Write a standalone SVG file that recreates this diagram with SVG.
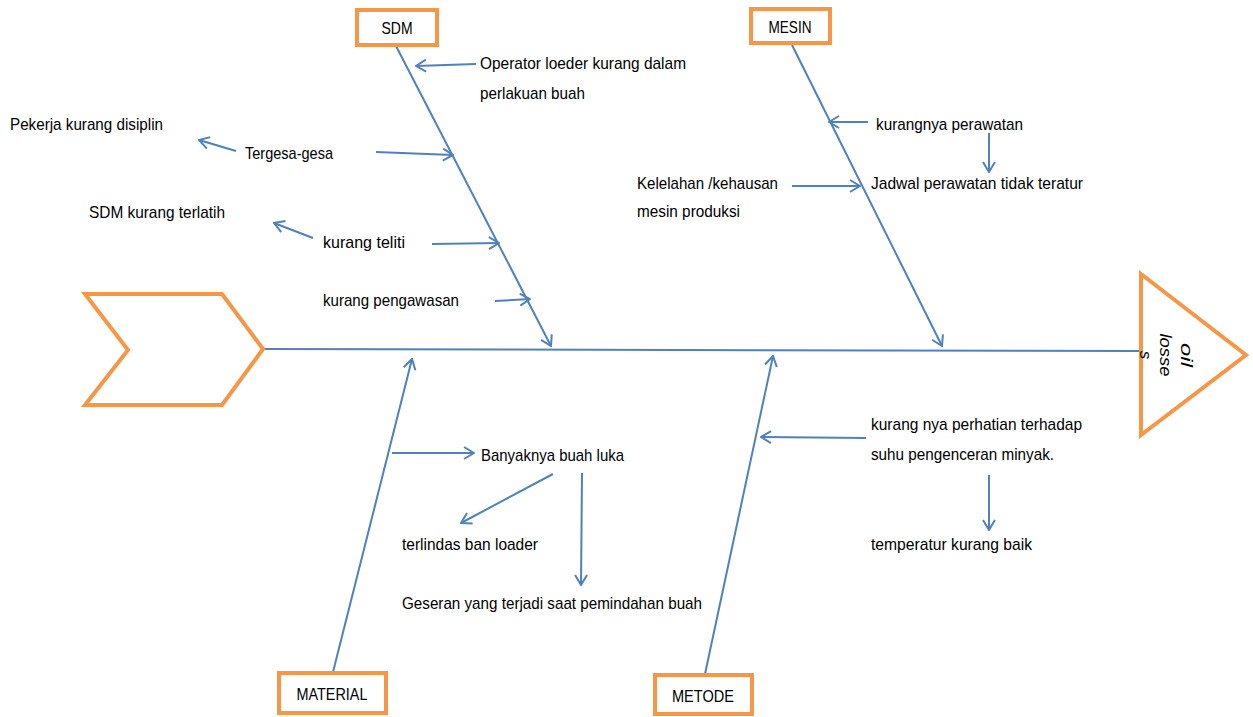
<svg xmlns="http://www.w3.org/2000/svg" width="1253" height="717" viewBox="0 0 1253 717">
<defs>
<style>
.ln{stroke:#4F81BD;stroke-width:2;fill:none}
.ar{stroke:#4F81BD;stroke-width:2;fill:none;marker-end:url(#v)}
.box{fill:#fff;stroke:#F79646;stroke-width:4}
.t{font-family:"Liberation Sans",Arial,sans-serif;font-size:17px;fill:#000}
.c{text-anchor:middle}
</style>
<marker id="v" viewBox="0 0 12 14" refX="11" refY="7" markerWidth="12" markerHeight="14" markerUnits="userSpaceOnUse" orient="auto">
<path d="M1,1 L11,7 L1,13" fill="none" stroke="#4F81BD" stroke-width="2"/>
</marker>
</defs>
<rect width="1253" height="717" fill="#fff"/>
<g id="connectors">
<line class="ln" x1="263" y1="349" x2="1140" y2="351"/>
<line class="ar" x1="396" y1="46" x2="551" y2="346"/>
<line class="ar" x1="792" y1="45" x2="942" y2="346"/>
<line class="ar" x1="333" y1="672" x2="412" y2="359"/>
<line class="ar" x1="705" y1="674" x2="773" y2="356"/>
<line class="ar" x1="476" y1="64" x2="416" y2="66"/>
<line class="ar" x1="376" y1="152" x2="453" y2="155"/>
<line class="ar" x1="236" y1="151" x2="199" y2="140"/>
<line class="ar" x1="313" y1="238" x2="274" y2="223"/>
<line class="ar" x1="432" y1="244" x2="499" y2="243"/>
<line class="ar" x1="495" y1="301" x2="530" y2="299"/>
<line class="ar" x1="868" y1="122" x2="829" y2="122"/>
<line class="ar" x1="989" y1="133" x2="989" y2="172"/>
<line class="ar" x1="792" y1="186" x2="860" y2="186"/>
<line class="ar" x1="392" y1="453" x2="474" y2="453"/>
<line class="ar" x1="553" y1="474" x2="461" y2="523"/>
<line class="ar" x1="582" y1="473" x2="581" y2="585"/>
<line class="ar" x1="866" y1="438" x2="761" y2="437"/>
<line class="ar" x1="989" y1="475" x2="989" y2="530"/>
</g>
<g id="head">
<polygon class="box" points="1141,274 1246,355 1141,435"/>
<g transform="translate(1200,355) rotate(90)">
<text class="t c" x="0" y="19" font-style="italic" textLength="24" lengthAdjust="spacingAndGlyphs">oil</text>
<text class="t c" x="0" y="40" font-style="italic" textLength="43" lengthAdjust="spacingAndGlyphs">losse</text>
<text class="t c" x="0" y="60" font-style="italic">s</text>
</g>
</g>
<g id="tail">
<polygon class="box" points="85,294 222,294 263,349 222,405 85,405 128,350"/>
</g>
<g id="sdm">
<rect class="box" x="357" y="10" width="80" height="35"/>
<text class="t c" x="397" y="34" textLength="31" lengthAdjust="spacingAndGlyphs">SDM</text>
</g>
<g id="mesin">
<rect class="box" x="751" y="9" width="79" height="34"/>
<text class="t c" x="790" y="33" textLength="43" lengthAdjust="spacingAndGlyphs">MESIN</text>
</g>
<g id="material">
<rect class="box" x="279" y="673" width="107" height="40"/>
<text class="t c" x="332" y="700" textLength="71" lengthAdjust="spacingAndGlyphs">MATERIAL</text>
</g>
<g id="metode">
<rect class="box" x="655" y="675" width="97" height="39"/>
<text class="t c" x="703" y="702" textLength="62" lengthAdjust="spacingAndGlyphs">METODE</text>
</g>
<g id="labels">
<text class="t" x="480" y="69" textLength="206" lengthAdjust="spacingAndGlyphs">Operator loeder kurang dalam</text>
<text class="t" x="480" y="99" textLength="105" lengthAdjust="spacingAndGlyphs">perlakuan buah</text>
<text class="t" x="10" y="130" textLength="153" lengthAdjust="spacingAndGlyphs">Pekerja kurang disiplin</text>
<text class="t" x="245" y="159" textLength="88" lengthAdjust="spacingAndGlyphs">Tergesa-gesa</text>
<text class="t" x="89" y="218" textLength="136" lengthAdjust="spacingAndGlyphs">SDM kurang terlatih</text>
<text class="t" x="323" y="248" textLength="82" lengthAdjust="spacingAndGlyphs">kurang teliti</text>
<text class="t" x="323" y="306" textLength="136" lengthAdjust="spacingAndGlyphs">kurang pengawasan</text>
<text class="t" x="876" y="130" textLength="147" lengthAdjust="spacingAndGlyphs">kurangnya perawatan</text>
<text class="t" x="871" y="189" textLength="212" lengthAdjust="spacingAndGlyphs">Jadwal perawatan tidak teratur</text>
<text class="t" x="637" y="189" textLength="141" lengthAdjust="spacingAndGlyphs">Kelelahan /kehausan</text>
<text class="t" x="637" y="217" textLength="103" lengthAdjust="spacingAndGlyphs">mesin produksi</text>
<text class="t" x="481" y="461" textLength="143" lengthAdjust="spacingAndGlyphs">Banyaknya buah luka</text>
<text class="t" x="402" y="550" textLength="136" lengthAdjust="spacingAndGlyphs">terlindas ban loader</text>
<text class="t" x="402" y="609" textLength="300" lengthAdjust="spacingAndGlyphs">Geseran yang terjadi saat pemindahan buah</text>
<text class="t" x="871" y="430" textLength="211" lengthAdjust="spacingAndGlyphs">kurang nya perhatian terhadap</text>
<text class="t" x="871" y="460" textLength="183" lengthAdjust="spacingAndGlyphs">suhu pengenceran minyak.</text>
<text class="t" x="871" y="550" textLength="161" lengthAdjust="spacingAndGlyphs">temperatur kurang baik</text>
</g>
</svg>
